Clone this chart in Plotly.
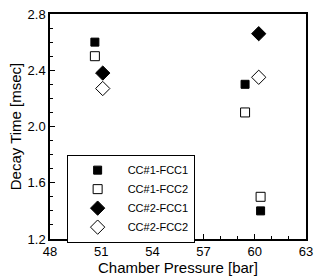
import plotly.graph_objects as go

names = ["CC#1-FCC1", "CC#1-FCC2", "CC#2-FCC1", "CC#2-FCC2"]
x_cc1_fcc1 = [50.63, 59.43, 60.34]
y_cc1_fcc1 = [2.60, 2.30, 1.40]
x_cc1_fcc2 = [50.63, 59.43, 60.34]
y_cc1_fcc2 = [2.50, 2.10, 1.50]
x_cc2_fcc1 = [51.09, 60.23]
y_cc2_fcc1 = [2.38, 2.66]
x_cc2_fcc2 = [51.09, 60.23]
y_cc2_fcc2 = [2.27, 2.35]

xs = [x_cc1_fcc1, x_cc1_fcc2, x_cc2_fcc1, x_cc2_fcc2]
ys = [y_cc1_fcc1, y_cc1_fcc2, y_cc2_fcc1, y_cc2_fcc2]
symbols = ["square", "square-open", "diamond", "diamond-open"]
sizes = [8, 9, 11, 11]

fig = go.Figure()
for n, x, y, s, sz in zip(names, xs, ys, symbols, sizes):
    fig.add_trace(go.Scatter(
        x=x, y=y, mode="markers", name=n,
        marker=dict(symbol=s, size=sz, color="black",
                    line=dict(color="black", width=1)),
    ))

fig.update_layout(
    width=320, height=279,
    margin=dict(l=50, r=7, t=8, b=37),
    paper_bgcolor="white", plot_bgcolor="white",
    font=dict(family="Liberation Sans, Arial", color="black", size=13),
    showlegend=True,
    legend=dict(
        x=0.065, y=0.375, xanchor="left", yanchor="top",
        bordercolor="black", borderwidth=1, bgcolor="white",
        font=dict(size=11), itemwidth=50,
        tracegroupgap=0, itemsizing="trace",
    ),
)
fig.update_xaxes(
    range=[48, 63], tickvals=[48, 51, 54, 57, 60, 63],
    ticks="inside", ticklen=5, tickcolor="black",
    minor=dict(dtick=1, ticks="inside", ticklen=3, tickcolor="black"),
    showline=True, linecolor="black", linewidth=1.5, mirror=True,
    showgrid=False, zeroline=False,
    title=dict(text="Chamber Pressure [bar]", font=dict(size=15), standoff=2),
)
fig.update_yaxes(
    range=[1.2, 2.8], tickvals=[1.2, 1.6, 2.0, 2.4, 2.8],
    ticktext=["1.2", "1.6", "2.0", "2.4", "2.8"],
    ticks="inside", ticklen=5, tickcolor="black",
    minor=dict(dtick=0.1, tick0=1.2, ticks="inside", ticklen=3, tickcolor="black"),
    showline=True, linecolor="black", linewidth=1.5, mirror=True,
    showgrid=False, zeroline=False,
    title=dict(text="Decay Time [msec]", font=dict(size=15), standoff=2),
)

fig.write_html("out.html")
